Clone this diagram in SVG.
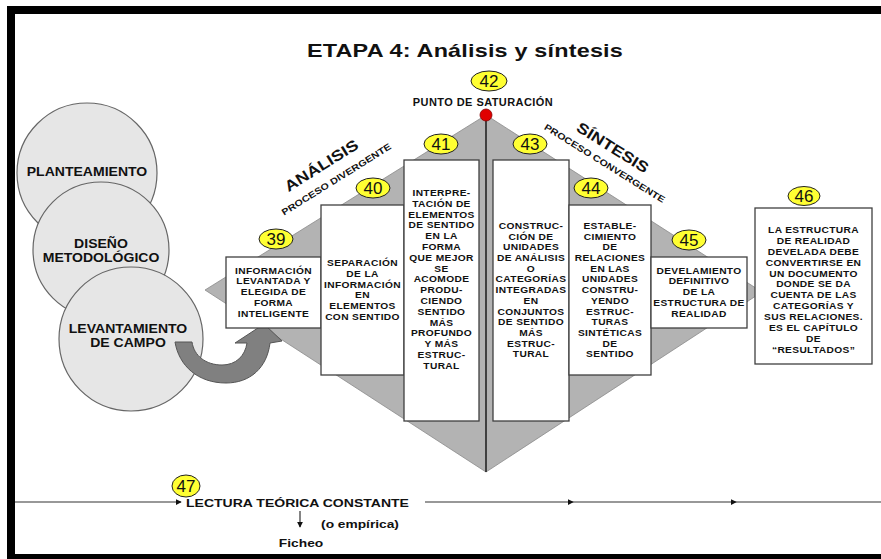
<svg xmlns="http://www.w3.org/2000/svg" width="881" height="559" viewBox="0 0 881 559">
<defs>
<style>
.bt{font-family:"Liberation Sans",Arial,sans-serif;font-weight:bold;font-size:8.5px;letter-spacing:0.3px;text-anchor:middle;fill:#111}
.box{fill:#fff;stroke:#404040;stroke-width:1.3}
.num ellipse{fill:#ffff33;stroke:#222;stroke-width:1}
.nt{font-family:"Liberation Sans",Arial,sans-serif;font-size:17px;text-anchor:middle;fill:#111}
.circ{fill:#e6e6e6;stroke:#666;stroke-width:1.2}
.ct{font-family:"Liberation Sans",Arial,sans-serif;font-weight:bold;font-size:12px;text-anchor:middle;fill:#111}
.lab{font-family:"Liberation Sans",Arial,sans-serif;font-weight:bold;text-anchor:middle;fill:#111}
.ln{stroke:#333;stroke-width:1.2;fill:none}
</style>
<marker id="ah" viewBox="0 0 8 8" refX="7" refY="4" markerWidth="6" markerHeight="6" markerUnits="userSpaceOnUse" orient="auto">
<path d="M0,0 L8,4 L0,8 Z" fill="#111"/>
</marker>
</defs>
<rect x="0" y="0" width="881" height="559" fill="#fff"/>
<rect x="11" y="10" width="880" height="548" fill="none" stroke="#000" stroke-width="8"/>

<text class="lab" font-size="18" letter-spacing="0.15" transform="translate(465,57) scale(1.3,1)">ETAPA 4: Análisis y síntesis</text>

<g id="diamond">
<polygon points="205,290 486,115 762,292 486,472" fill="#b3b3b3" stroke="#8a8a8a" stroke-width="0.8"/>
<line x1="486" y1="115" x2="486" y2="472" stroke="#111" stroke-width="1.4"/>
</g>

<g id="circles">
<g id="planteamiento"><circle class="circ" cx="87" cy="173" r="70"/><text class="ct" transform="translate(87,176) scale(1.17,1)">PLANTEAMIENTO</text></g>
<g id="diseno"><circle class="circ" cx="101" cy="250" r="68"/><text class="ct" transform="translate(101,248) scale(1.17,1)"><tspan x="0" dy="0">DISEÑO</tspan><tspan x="0" dy="14">METODOLÓGICO</tspan></text></g>
<g id="levantamiento"><circle class="circ" cx="131" cy="339" r="72"/><text class="ct" transform="translate(128,333) scale(1.17,1)"><tspan x="0" dy="0">LEVANTAMIENTO</tspan><tspan x="0" dy="14">DE CAMPO</tspan></text></g>
</g>

<g id="connectors">
<path d="M175,342 L192,342 C194,356 206,365 222,365 C236,365 245,356 247,343 L235,343 L264,324 L282,341 L270,343 C267,368 250,383 226,383 C198,383 179,366 175,342 Z" fill="#808080" stroke="#555" stroke-width="1"/>
<line class="ln" x1="15" y1="502" x2="181" y2="502" marker-end="url(#ah)"/>
<line class="ln" x1="425" y1="502" x2="573" y2="502" marker-end="url(#ah)"/>
<line class="ln" x1="573" y1="502" x2="736" y2="502" marker-end="url(#ah)"/>
<line class="ln" x1="736" y1="502" x2="881" y2="502"/>
<line class="ln" x1="300" y1="511" x2="300" y2="527" marker-end="url(#ah)"/>
</g>

<g id="saturacion">
<circle cx="486" cy="115" r="6" fill="#e00000" stroke="#800" stroke-width="0.8"/>
<text class="lab" font-size="10" letter-spacing="0.4" transform="translate(483,106) scale(1.1,1)">PUNTO DE SATURACIÓN</text>
</g>

<g id="analisis-label">
<text class="lab" font-size="15" transform="translate(324,170) rotate(-32) scale(1.2,1)">ANÁLISIS</text>
<text class="lab" font-size="9" transform="translate(338,182) rotate(-32) scale(1.2,1)">PROCESO DIVERGENTE</text>
</g>
<g id="sintesis-label">
<text class="lab" font-size="15" transform="translate(610,152) rotate(32) scale(1.2,1)">SÍNTESIS</text>
<text class="lab" font-size="9" transform="translate(603,166) rotate(32) scale(1.2,1)">PROCESO CONVERGENTE</text>
</g>

<g id="box39"><rect class="box" x="226" y="257" width="95" height="71"/>
<text class="bt" transform="translate(273.5,273.5) scale(1.2,1)"><tspan x="0" dy="0">INFORMACIÓN</tspan><tspan x="0" dy="10.8">LEVANTADA Y</tspan><tspan x="0" dy="10.8">ELEGIDA DE</tspan><tspan x="0" dy="10.8">FORMA</tspan><tspan x="0" dy="10.8">INTELIGENTE</tspan></text></g>

<g id="box40"><rect class="box" x="321" y="205" width="83" height="170"/>
<text class="bt" transform="translate(362.5,266) scale(1.2,1)"><tspan x="0" dy="0">SEPARACIÓN</tspan><tspan x="0" dy="10.8">DE LA</tspan><tspan x="0" dy="10.8">INFORMACIÓN</tspan><tspan x="0" dy="10.8">EN</tspan><tspan x="0" dy="10.8">ELEMENTOS</tspan><tspan x="0" dy="10.8">CON SENTIDO</tspan></text></g>

<g id="box41"><rect class="box" x="404" y="160" width="75" height="261"/>
<text class="bt" transform="translate(441.5,196) scale(1.2,1)"><tspan x="0" dy="0">INTERPRE-</tspan><tspan x="0" dy="10.8">TACIÓN DE</tspan><tspan x="0" dy="10.8">ELEMENTOS</tspan><tspan x="0" dy="10.8">DE SENTIDO</tspan><tspan x="0" dy="10.8">EN LA</tspan><tspan x="0" dy="10.8">FORMA</tspan><tspan x="0" dy="10.8">QUE MEJOR</tspan><tspan x="0" dy="10.8">SE</tspan><tspan x="0" dy="10.8">ACOMODE</tspan><tspan x="0" dy="10.8">PRODU-</tspan><tspan x="0" dy="10.8">CIENDO</tspan><tspan x="0" dy="10.8">SENTIDO</tspan><tspan x="0" dy="10.8">MÁS</tspan><tspan x="0" dy="10.8">PROFUNDO</tspan><tspan x="0" dy="10.8">Y MÁS</tspan><tspan x="0" dy="10.8">ESTRUC-</tspan><tspan x="0" dy="10.8">TURAL</tspan></text></g>

<g id="box43"><rect class="box" x="493" y="160" width="76" height="261"/>
<text class="bt" transform="translate(531,229) scale(1.2,1)"><tspan x="0" dy="0">CONSTRUC-</tspan><tspan x="0" dy="10.7">CIÓN DE</tspan><tspan x="0" dy="10.7">UNIDADES</tspan><tspan x="0" dy="10.7">DE ANÁLISIS</tspan><tspan x="0" dy="10.7">O</tspan><tspan x="0" dy="10.7">CATEGORÍAS</tspan><tspan x="0" dy="10.7">INTEGRADAS</tspan><tspan x="0" dy="10.7">EN</tspan><tspan x="0" dy="10.7">CONJUNTOS</tspan><tspan x="0" dy="10.7">DE SENTIDO</tspan><tspan x="0" dy="10.7">MÁS</tspan><tspan x="0" dy="10.7">ESTRUC-</tspan><tspan x="0" dy="10.7">TURAL</tspan></text></g>

<g id="box44"><rect class="box" x="569" y="205" width="82" height="170"/>
<text class="bt" transform="translate(610,229) scale(1.2,1)"><tspan x="0" dy="0">ESTABLE-</tspan><tspan x="0" dy="10.7">CIMIENTO</tspan><tspan x="0" dy="10.7">DE</tspan><tspan x="0" dy="10.7">RELACIONES</tspan><tspan x="0" dy="10.7">EN LAS</tspan><tspan x="0" dy="10.7">UNIDADES</tspan><tspan x="0" dy="10.7">CONSTRU-</tspan><tspan x="0" dy="10.7">YENDO</tspan><tspan x="0" dy="10.7">ESTRUC-</tspan><tspan x="0" dy="10.7">TURAS</tspan><tspan x="0" dy="10.7">SINTÉTICAS</tspan><tspan x="0" dy="10.7">DE</tspan><tspan x="0" dy="10.7">SENTIDO</tspan></text></g>

<g id="box45"><rect class="box" x="651" y="257" width="96" height="71"/>
<text class="bt" transform="translate(699,273.5) scale(1.2,1)"><tspan x="0" dy="0">DEVELAMIENTO</tspan><tspan x="0" dy="10.8">DEFINITIVO</tspan><tspan x="0" dy="10.8">DE LA</tspan><tspan x="0" dy="10.8">ESTRUCTURA DE</tspan><tspan x="0" dy="10.8">REALIDAD</tspan></text></g>

<g id="box46"><rect class="box" x="755" y="208" width="117" height="156"/>
<text class="bt" letter-spacing="0.8" transform="translate(813.5,233) scale(1.2,1)"><tspan x="0" dy="0">LA ESTRUCTURA</tspan><tspan x="0" dy="10.9">DE REALIDAD</tspan><tspan x="0" dy="10.9">DEVELADA DEBE</tspan><tspan x="0" dy="10.9">CONVERTIRSE EN</tspan><tspan x="0" dy="10.9">UN DOCUMENTO</tspan><tspan x="0" dy="10.9">DONDE SE DA</tspan><tspan x="0" dy="10.9">CUENTA DE LAS</tspan><tspan x="0" dy="10.9">CATEGORÍAS Y</tspan><tspan x="0" dy="10.9">SUS RELACIONES.</tspan><tspan x="0" dy="10.9">ES EL CAPÍTULO</tspan><tspan x="0" dy="10.9">DE</tspan><tspan x="0" dy="10.9">“RESULTADOS”</tspan></text></g>

<g id="n42" class="num"><ellipse cx="489" cy="81" rx="18" ry="10"/><text class="nt" x="489" y="87">42</text></g>
<g id="n41" class="num"><ellipse cx="441" cy="144" rx="17" ry="10"/><text class="nt" x="441" y="150">41</text></g>
<g id="n43" class="num"><ellipse cx="530" cy="144" rx="17" ry="10"/><text class="nt" x="530" y="150">43</text></g>
<g id="n40" class="num"><ellipse cx="373" cy="188" rx="17" ry="10"/><text class="nt" x="373" y="194">40</text></g>
<g id="n44" class="num"><ellipse cx="591" cy="188" rx="17" ry="10"/><text class="nt" x="591" y="194">44</text></g>
<g id="n39" class="num"><ellipse cx="276" cy="239" rx="17" ry="10"/><text class="nt" x="276" y="245">39</text></g>
<g id="n45" class="num"><ellipse cx="689" cy="240" rx="17" ry="10"/><text class="nt" x="689" y="246">45</text></g>
<g id="n46" class="num"><ellipse cx="804" cy="196" rx="16" ry="9.5"/><text class="nt" x="804" y="202">46</text></g>
<g id="n47" class="num"><ellipse cx="186" cy="486" rx="14" ry="11"/><text class="nt" x="186" y="492">47</text></g>

<g id="lectura">
<text class="lab" font-size="11.5" style="text-anchor:start" transform="translate(186,507) scale(1.22,1)">LECTURA TEÓRICA CONSTANTE</text>
<text class="lab" font-size="11" transform="translate(360,528) scale(1.25,1)">(o empírica)</text>
<text class="lab" font-size="11.5" transform="translate(301,547) scale(1.2,1)">Ficheo</text>
</g>
</svg>
